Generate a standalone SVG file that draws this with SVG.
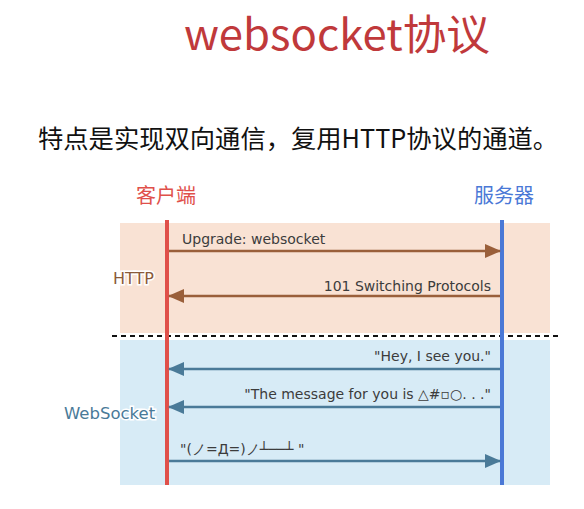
<svg xmlns="http://www.w3.org/2000/svg" width="584" height="509" viewBox="0 0 584 509">
<style>
.cjk{font-family:"Noto Sans CJK SC","Noto Sans",sans-serif}
.lbl{font-family:"DejaVu Sans",Verdana,sans-serif;font-size:14px;fill:#3c3c3c}
.brown{stroke:#9a5f3a;stroke-width:2.5;fill:none}
.steel{stroke:#4a7a98;stroke-width:2.5;fill:none}
</style>
<defs>
<marker id="ab" markerWidth="16" markerHeight="14" refX="15" refY="7" orient="auto" markerUnits="userSpaceOnUse"><path d="M0,0 L16,7 L0,14 Z" fill="#9a5f3a"/></marker>
<marker id="as" markerWidth="16" markerHeight="14" refX="15" refY="7" orient="auto" markerUnits="userSpaceOnUse"><path d="M0,0 L16,7 L0,14 Z" fill="#4a7a98"/></marker>
</defs>
<rect width="584" height="509" fill="#ffffff"/>
<text class="cjk" x="337" y="50" font-size="42.5" fill="#c0393b" text-anchor="middle" textLength="306" lengthAdjust="spacingAndGlyphs">websocket协议</text>
<text class="cjk" x="38" y="148" font-size="25.3" fill="#111">特点是实现双向通信，复用HTTP协议的通道。</text>
<g id="bands">
<rect x="120" y="223" width="430" height="110" fill="#f9e2d4"/>
<rect x="120" y="340" width="430" height="145" fill="#d7ebf6"/>
<line x1="112" y1="336" x2="558" y2="336" stroke="#111" stroke-width="2" stroke-dasharray="5,4"/>
</g>
<g id="client">
<text class="cjk" x="166" y="203" font-size="20" fill="#e0504a" text-anchor="middle">客户端</text>
<line x1="167" y1="220" x2="167" y2="485" stroke="#e0504a" stroke-width="4"/>
</g>
<g id="server">
<text class="cjk" x="504" y="203" font-size="20" fill="#4a78d6" text-anchor="middle">服务器</text>
<line x1="502" y1="220" x2="502" y2="485" stroke="#4a78d6" stroke-width="4"/>
</g>
<g id="http-label">
<text x="113" y="284" font-family="DejaVu Sans,Verdana,sans-serif" font-size="16" fill="#8a5a3a" stroke="#fff" stroke-width="3" paint-order="stroke">HTTP</text>
</g>
<g id="ws-label">
<text x="64" y="419" font-family="DejaVu Sans,Verdana,sans-serif" font-size="16.5" fill="#4a7a98" stroke="#fff" stroke-width="3" paint-order="stroke">WebSocket</text>
</g>
<g id="connectors">
<line class="brown" x1="169" y1="251" x2="500" y2="251" marker-end="url(#ab)"/>
<line class="brown" x1="500" y1="296" x2="169" y2="296" marker-end="url(#ab)"/>
<line class="steel" x1="500" y1="369" x2="169" y2="369" marker-end="url(#as)"/>
<line class="steel" x1="500" y1="407" x2="169" y2="407" marker-end="url(#as)"/>
<line class="steel" x1="169" y1="461" x2="500" y2="461" marker-end="url(#as)"/>
</g>
<g id="labels">
<text class="lbl" x="182" y="244">Upgrade: websocket</text>
<text class="lbl" x="491" y="291" text-anchor="end">101 Switching Protocols</text>
<text class="lbl" x="491" y="361" text-anchor="end">"Hey, I see you."</text>
<text class="lbl" x="491" y="399" text-anchor="end">"The message for you is △#▫○. . ."</text>
<text class="lbl" x="180" y="454">"(ノ=Д=)ノ┴──┴ "</text>
</g>
</svg>
